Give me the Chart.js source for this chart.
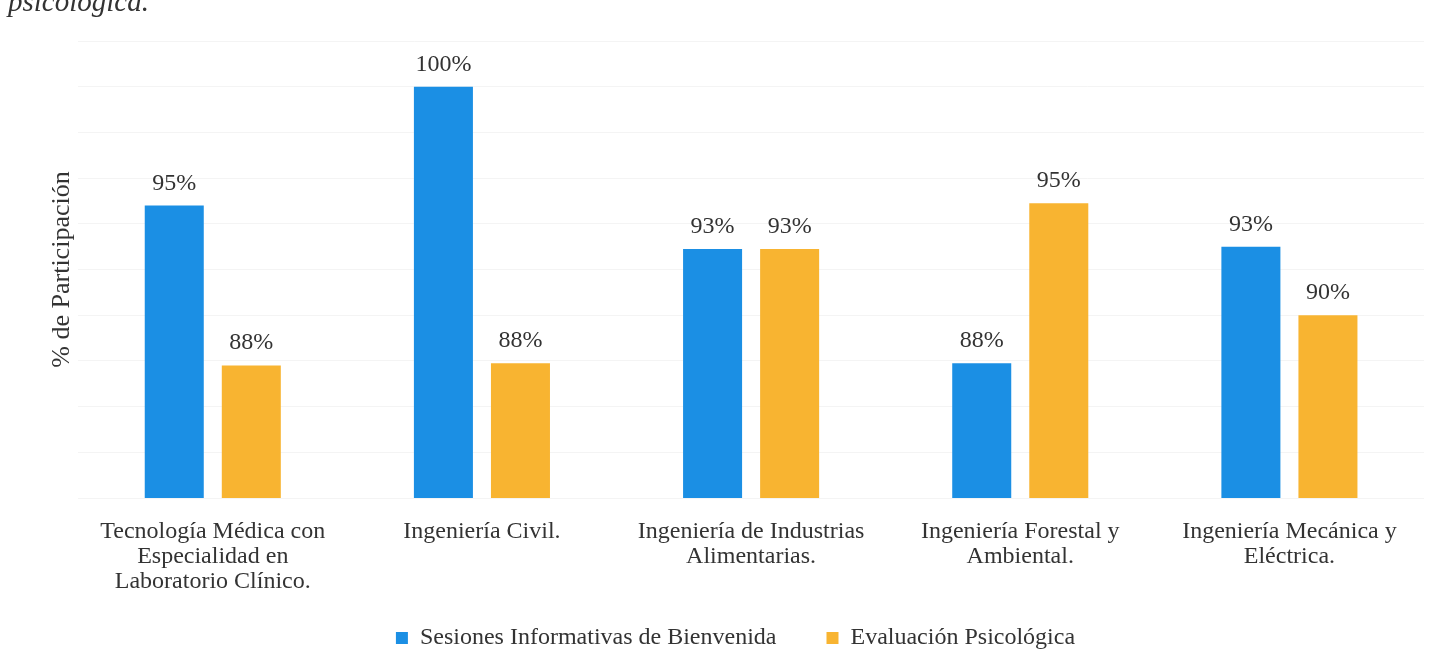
<!DOCTYPE html>
<html>
<head>
<meta charset="utf-8">
<script src="https://cdn.jsdelivr.net/npm/chart.js@4"></script>
<style>
  html, body { margin: 0; padding: 0; background: #fff; }
  #wrap { position: relative; width: 1445px; height: 663px; overflow: hidden; }
  #caption {
    position: absolute; left: 8px; top: -15px;
    font: italic 29px "Liberation Serif", "DejaVu Serif", serif; color: #333;
  }
  canvas { display: block; }
</style>
</head>
<body>
<div id="wrap">
  <div id="caption">psicológica.</div>
  <canvas id="chart" width="1445" height="663"></canvas>
</div>
<script>
// ── Data ──────────────────────────────────────────────────────────────────
const categories = [
  ["Tecnología Médica con", "Especialidad en", "Laboratorio Clínico."],
  "Ingeniería Civil.",
  ["Ingeniería de Industrias", "Alimentarias."],
  ["Ingeniería Forestal y", "Ambiental."],
  ["Ingeniería Mecánica y", "Eléctrica."],
];
const seriesNames = ["Sesiones Informativas de Bienvenida", "Evaluación Psicológica"];
const sesiones   = [94.8, 100, 92.9, 87.9, 93.0];
const evaluacion = [87.8, 87.9, 92.9, 94.9, 90.0];

const SERIF = '"Liberation Serif", "DejaVu Serif", serif';
const TEXT = "#333";

// Value labels drawn above each bar ("95%")
const valueLabels = {
  id: "valueLabels",
  afterDatasetsDraw(chart) {
    const c = chart.ctx;
    c.save();
    c.font = "24px " + SERIF;
    c.fillStyle = TEXT;
    c.textAlign = "center";
    c.textBaseline = "alphabetic";
    chart.data.datasets.forEach((ds, i) => {
      chart.getDatasetMeta(i).data.forEach((bar, j) => {
        c.fillText(Math.round(ds.data[j]) + "%", bar.x, bar.y - 16);
      });
    });
    c.restore();
  },
};

// The x axis is squeezed (afterFit) so its labels run into the legend's
// empty top padding; widen its box afterwards so the labels aren't clipped.
const unclipX = {
  id: "unclipX",
  afterLayout(chart) {
    chart.scales.x.bottom = chart.height;
  },
};

new Chart(document.getElementById("chart"), {
  type: "bar",
  data: {
    labels: categories,
    datasets: [
      { label: seriesNames[0], data: sesiones, backgroundColor: "#1b8fe4" },
      { label: seriesNames[1], data: evaluacion, backgroundColor: "#f8b431" },
    ],
  },
  options: {
    responsive: false,
    animation: false,
    categoryPercentage: 0.5725,
    barPercentage: 0.766,
    layout: { padding: { top: 41, right: 21, left: 47, bottom: 3 } },
    scales: {
      x: {
        grid: { display: false },
        border: { display: false },
        ticks: {
          color: TEXT,
          font: { family: SERIF, size: 24, lineHeight: 1.04 },
          padding: 13,
          maxRotation: 0,
        },
        afterFit(scale) { scale.height = 78; },
      },
      y: {
        min: 82,
        max: 102,
        ticks: { display: false, stepSize: 2 },
        grid: { color: "rgba(0,0,0,0.045)", drawTicks: false },
        border: { display: false },
        title: {
          display: true,
          text: "% de Participación",
          color: TEXT,
          font: { family: SERIF, size: 26 },
          padding: 0,
        },
      },
    },
    plugins: {
      legend: {
        position: "bottom",
        labels: {
          color: TEXT,
          font: { family: SERIF, size: 24 },
          boxWidth: 12,
          boxHeight: 12,
          padding: 50,
        },
      },
      tooltip: { enabled: false },
    },
  },
  plugins: [valueLabels, unclipX],
});
</script>
</body>
</html>
